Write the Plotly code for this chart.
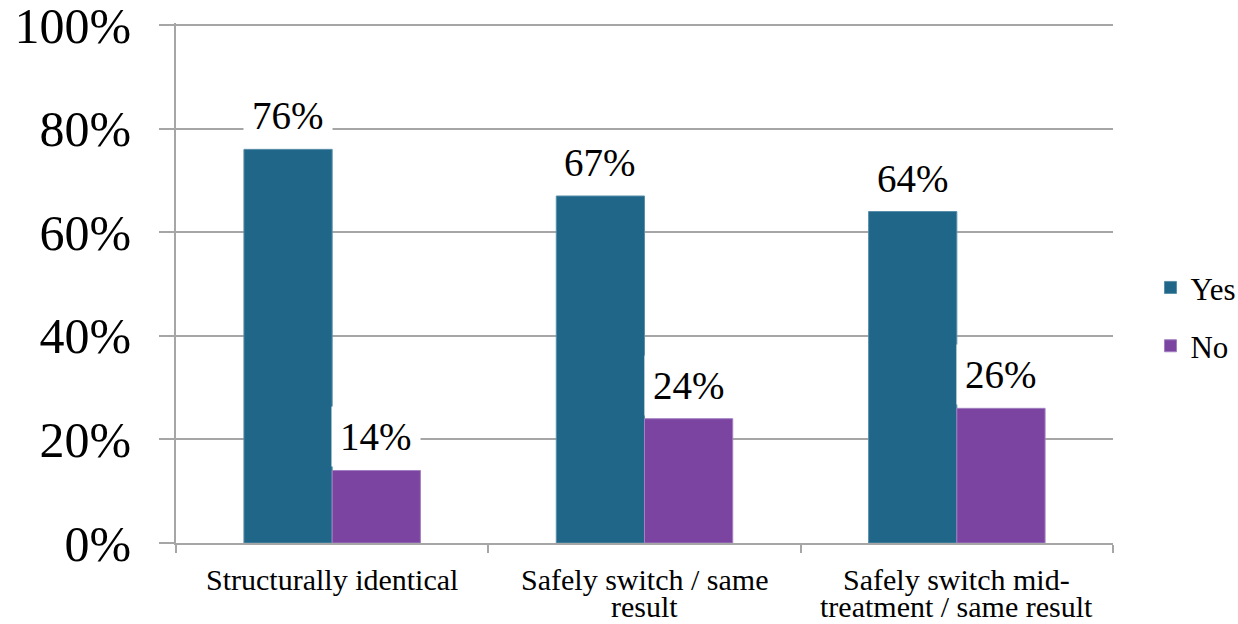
import plotly.graph_objects as go

categories = ["Structurally identical",
              "Safely switch / same<br>result",
              "Safely switch mid-<br>treatment / same result"]
yes_values = [76, 67, 64]
no_values = [14, 24, 26]
y_ticks = [0, 20, 40, 60, 80, 100]

FONT = "Liberation Serif"
YES_COLOR = "#1F6688"
NO_COLOR = "#7B44A0"
GRID = "#A6A6A6"

BARGAP = 0.435
half = (1 - BARGAP) / 4  # offset of each bar centre from the category centre

fig = go.Figure()
fig.add_bar(name="Yes", x=categories, y=yes_values, marker_color=YES_COLOR,
            marker_line=dict(color="#5A8FAB", width=1), legendgroup="yes")
fig.add_bar(name="No", x=categories, y=no_values, marker_color=NO_COLOR,
            marker_line=dict(color="#A27FC0", width=1), legendgroup="no")

# value labels on white boxes above each bar
for i, (yv, nv) in enumerate(zip(yes_values, no_values)):
    for xpos, val in ((i - half, yv), (i + half, nv)):
        fig.add_annotation(x=xpos, y=val, xref="x", yref="y", text=f"{val}%",
                           showarrow=False, yanchor="bottom", yshift=3,
                           bgcolor="white", borderpad=8,
                           font=dict(family=FONT, size=39, color="black"))

# category labels, one annotation per line for tight line spacing
for i, cat in enumerate(categories):
    for k, line in enumerate(cat.split("<br>")):
        fig.add_annotation(x=i, y=0, xref="x", yref="paper", text=line,
                           showarrow=False, yanchor="middle",
                           yshift=-36 - 27 * k,
                           font=dict(family=FONT, size=30, color="black"))

fig.update_layout(
    width=1238, height=624,
    margin=dict(l=176, r=125, t=23, b=81, autoexpand=False),
    paper_bgcolor="white", plot_bgcolor="white",
    barmode="group", bargap=BARGAP, bargroupgap=0,
    font=dict(family=FONT, color="black"),
    legend=dict(x=1.04, xanchor="left", y=0.435, yanchor="middle",
                font=dict(family=FONT, size=31), tracegroupgap=15,
                bgcolor="rgba(0,0,0,0)"),
)
fig.update_yaxes(range=[0, 100.4], tickvals=y_ticks,
                 ticktext=[f"{v}%" for v in y_ticks],
                 tickfont=dict(family=FONT, size=50, color="black"),
                 ticklabeloverflow="allow",
                 showgrid=True, gridcolor=GRID, gridwidth=1.5,
                 ticks="outside", ticklen=15, tickcolor=GRID, tickwidth=1.5,
                 showline=True, linecolor=GRID, linewidth=1.5,
                 zeroline=False, ticklabelstandoff=18, automargin=False)
fig.update_xaxes(showticklabels=False,
                 tickson="boundaries", ticks="outside", ticklen=8,
                 tickcolor=GRID, tickwidth=1.5,
                 showline=True, linecolor=GRID, linewidth=1.5,
                 showgrid=False, automargin=False)

fig.write_html("out.html")
